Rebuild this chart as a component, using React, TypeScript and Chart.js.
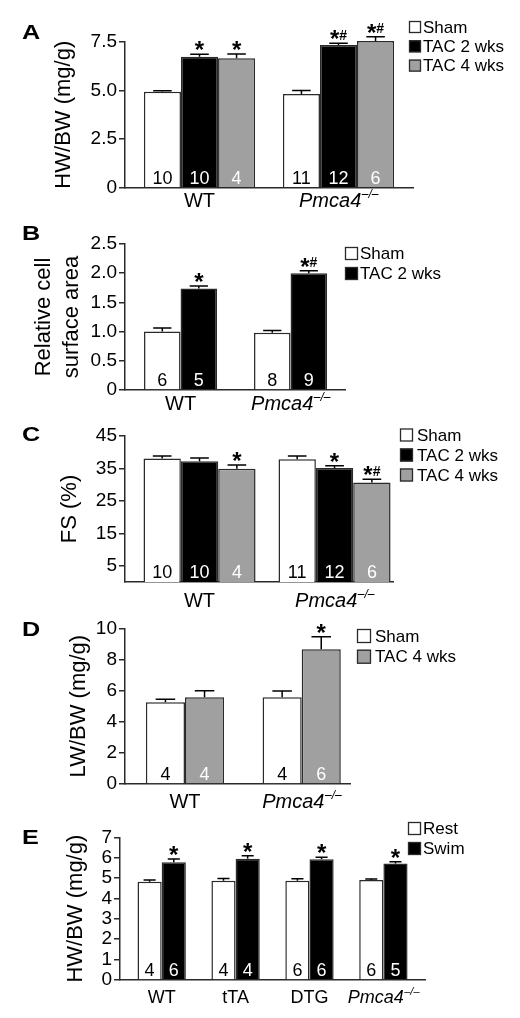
import React, { useEffect, useRef } from 'react';
import { Chart, registerables } from 'chart.js';

Chart.register(...registerables);

const FONT = '"Liberation Sans", Arial, Helvetica, sans-serif';
const WHITE = '#ffffff';
const BLACK = '#000000';
const GRAY = '#a0a0a0';
const EDGE = '#2a2a2a';

// ---------- Panel A : HW/BW ----------
const aGroups = ['WT', 'Pmca4'];
const aTicks = [0, 2.5, 5, 7.5];
const aSham = [4.93, 4.81];
const aShamErr = [0.05, 0.18];
const aShamN = [10, 11];
const aTac2 = [6.73, 7.33];
const aTac2Err = [0.13, 0.09];
const aTac2N = [10, 12];
const aTac2Sig = ['*', '*#'];
const aTac4 = [6.65, 7.53];
const aTac4Err = [0.22, 0.22];
const aTac4N = [4, 6];
const aTac4Sig = ['*', '*#'];

// ---------- Panel B : relative cell surface area ----------
const bGroups = ['WT', 'Pmca4'];
const bTicks = [0, 0.5, 1, 1.5, 2, 2.5];
const bSham = [1.0, 0.98];
const bShamErr = [0.06, 0.04];
const bShamN = [6, 8];
const bTac2 = [1.74, 2.0];
const bTac2Err = [0.04, 0.04];
const bTac2N = [5, 9];
const bTac2Sig = ['*', '*#'];

// ---------- Panel C : FS ----------
const cGroups = ['WT', 'Pmca4'];
const cTicks = [5, 15, 25, 35, 45];
const cSham = [38.1, 37.8];
const cShamErr = [0.7, 1.0];
const cShamN = [10, 11];
const cTac2 = [37.2, 35.1];
const cTac2Err = [1.0, 0.7];
const cTac2N = [10, 12];
const cTac2Sig = ['', '*'];
const cTac4 = [34.9, 30.7];
const cTac4Err = [1.2, 1.0];
const cTac4N = [4, 6];
const cTac4Sig = ['*', '*#'];

// ---------- Panel D : LW/BW ----------
const dGroups = ['WT', 'Pmca4'];
const dTicks = [0, 2, 4, 6, 8, 10];
const dSham = [5.25, 5.57];
const dShamErr = [0.19, 0.4];
const dShamN = [4, 4];
const dTac4 = [5.57, 8.65];
const dTac4Err = [0.42, 0.8];
const dTac4N = [4, 6];
const dTac4Sig = ['', '*'];

// ---------- Panel E : HW/BW swim ----------
const eGroups = ['WT', 'tTA', 'DTG', 'Pmca4'];
const eTicks = [0, 1, 2, 3, 4, 5, 6, 7];
const eRest = [4.82, 4.87, 4.87, 4.9];
const eRestErr = [0.08, 0.11, 0.1, 0.05];
const eRestN = [4, 4, 6, 6];
const eSwim = [5.77, 5.95, 5.92, 5.72];
const eSwimErr = [0.16, 0.14, 0.1, 0.08];
const eSwimN = [6, 4, 6, 5];
const eSwimSig = ['*', '*', '*', '*'];

type Series = {
  label: string;
  color: string;
  values: number[];
  err: number[];
  n: number[];
  sig?: string[];
};

type Panel = {
  letter: string;
  letterY: number;
  top: number;
  height: number;
  area: { l: number; t: number; r: number; b: number };
  yMin: number;
  yMax: number;
  yTicks: number[];
  yFmt: (v: number) => string;
  title: string | string[];
  titleLH: number;
  titlePad: number;
  groups: string[];
  xMin: number;
  xMax: number;
  catPct: number;
  xLabelY: number;
  xLabelSize: number;
  legend: { x: number; y: number; dy: number; box: number; gap: number };
  series: Series[];
};

const dec1 = (v: number) => (v === 0 ? '0' : v.toFixed(1));
const intFmt = (v: number) => String(v);

const panels: Panel[] = [
  {
    letter: 'A', letterY: 33, top: 0, height: 212,
    area: { l: 125, t: 41.7, r: 413, b: 187.7 },
    yMin: 0, yMax: 7.5, yTicks: aTicks, yFmt: dec1,
    title: 'HW/BW (mg/g)', titleLH: 1.2, titlePad: 51,
    groups: aGroups, xMin: -0.536, xMax: 1.536, catPct: 0.8,
    xLabelY: 201, xLabelSize: 20,
    legend: { x: 409, y: 27, dy: 19.3, box: 12, gap: 2 },
    series: [
      { label: 'Sham', color: WHITE, values: aSham, err: aShamErr, n: aShamN },
      { label: 'TAC 2 wks', color: BLACK, values: aTac2, err: aTac2Err, n: aTac2N, sig: aTac2Sig },
      { label: 'TAC 4 wks', color: GRAY, values: aTac4, err: aTac4Err, n: aTac4N, sig: aTac4Sig },
    ],
  },
  {
    letter: 'B', letterY: 234, top: 212, height: 200,
    area: { l: 125, t: 244, r: 345, b: 390 },
    yMin: 0, yMax: 2.5, yTicks: bTicks, yFmt: dec1,
    title: ['Relative cell', 'surface area'], titleLH: 1.27, titlePad: 30,
    groups: bGroups, xMin: -0.505, xMax: 1.495, catPct: 0.664,
    xLabelY: 404, xLabelSize: 20,
    legend: { x: 345, y: 253.5, dy: 20, box: 13, gap: 2 },
    series: [
      { label: 'Sham', color: WHITE, values: bSham, err: bShamErr, n: bShamN },
      { label: 'TAC 2 wks', color: BLACK, values: bTac2, err: bTac2Err, n: bTac2N, sig: bTac2Sig },
    ],
  },
  {
    letter: 'C', letterY: 435, top: 412, height: 200,
    area: { l: 125, t: 436, r: 393, b: 582 },
    yMin: 0, yMax: 45, yTicks: cTicks, yFmt: intFmt,
    title: 'FS (%)', titleLH: 1.2, titlePad: 57,
    groups: cGroups, xMin: -0.552, xMax: 1.433, catPct: 0.83,
    xLabelY: 601, xLabelSize: 20,
    legend: { x: 400, y: 435, dy: 20, box: 13, gap: 4 },
    series: [
      { label: 'Sham', color: WHITE, values: cSham, err: cShamErr, n: cShamN },
      { label: 'TAC 2 wks', color: BLACK, values: cTac2, err: cTac2Err, n: cTac2N, sig: cTac2Sig },
      { label: 'TAC 4 wks', color: GRAY, values: cTac4, err: cTac4Err, n: cTac4N, sig: cTac4Sig },
    ],
  },
  {
    letter: 'D', letterY: 630, top: 612, height: 200,
    area: { l: 125, t: 628.3, r: 350, b: 784 },
    yMin: 0, yMax: 10, yTicks: dTicks, yFmt: intFmt,
    title: 'LW/BW (mg/g)', titleLH: 1.2, titlePad: 66,
    groups: dGroups, xMin: -0.514, xMax: 1.414, catPct: 0.67,
    xLabelY: 802, xLabelSize: 20,
    legend: { x: 357, y: 636, dy: 20.7, box: 14, gap: 4 },
    series: [
      { label: 'Sham', color: WHITE, values: dSham, err: dShamErr, n: dShamN },
      { label: 'TAC 4 wks', color: GRAY, values: dTac4, err: dTac4Err, n: dTac4N, sig: dTac4Sig },
    ],
  },
  {
    letter: 'E', letterY: 838, top: 812, height: 206,
    area: { l: 120, t: 837.3, r: 425, b: 980 },
    yMin: 0, yMax: 7, yTicks: eTicks, yFmt: intFmt,
    title: 'HW/BW (mg/g)', titleLH: 1.2, titlePad: 63,
    groups: eGroups, xMin: -0.564, xMax: 3.563, catPct: 0.654,
    xLabelY: 998, xLabelSize: 18,
    legend: { x: 408, y: 828.5, dy: 20, box: 13, gap: 2 },
    series: [
      { label: 'Rest', color: WHITE, values: eRest, err: eRestErr, n: eRestN },
      { label: 'Swim', color: BLACK, values: eSwim, err: eSwimErr, n: eSwimN, sig: eSwimSig },
    ],
  },
];

function drawSig(ctx: CanvasRenderingContext2D, text: string, cx: number, bottomY: number) {
  const starFont = `bold 24px ${FONT}`;
  const hashFont = `bold 14px ${FONT}`;
  const parts = text.split('').map((ch) => ({ ch, font: ch === '*' ? starFont : hashFont }));
  let total = 0;
  const widths: number[] = [];
  parts.forEach((p) => {
    ctx.font = p.font;
    const w = ctx.measureText(p.ch).width;
    widths.push(w);
    total += w;
  });
  // vertical centre of the asterisk glyph, whose bottom sits at bottomY
  ctx.font = starFont;
  const sm = ctx.measureText('*');
  const starH = sm.actualBoundingBoxAscent + sm.actualBoundingBoxDescent;
  const centre = bottomY - starH / 2;
  let x = cx - total / 2;
  ctx.fillStyle = '#000';
  ctx.textAlign = 'left';
  ctx.textBaseline = 'alphabetic';
  parts.forEach((p, i) => {
    ctx.font = p.font;
    const m = ctx.measureText(p.ch);
    const base = centre + (m.actualBoundingBoxAscent - m.actualBoundingBoxDescent) / 2;
    ctx.fillText(p.ch, x, base);
    x += widths[i];
  });
}

function makePlugin(p: Panel) {
  return {
    id: 'decor' + p.letter,
    afterDatasetsDraw(chart: any) {
      const ctx: CanvasRenderingContext2D = chart.ctx;
      const ys = chart.scales.y;
      const area = chart.chartArea;
      p.series.forEach((s, di) => {
        const meta = chart.getDatasetMeta(di);
        meta.data.forEach((bar: any, i: number) => {
          const x = bar.x;
          const w = bar.width;
          const topY = ys.getPixelForValue(s.values[i]);
          const capY = ys.getPixelForValue(s.values[i] + s.err[i]);
          ctx.save();
          ctx.strokeStyle = '#000';
          ctx.lineWidth = 1.5;
          ctx.beginPath();
          ctx.moveTo(x, topY);
          ctx.lineTo(x, capY);
          ctx.moveTo(x - w * 0.25, capY);
          ctx.lineTo(x + w * 0.25, capY);
          ctx.stroke();
          ctx.font = `18px ${FONT}`;
          ctx.fillStyle = s.color === WHITE ? '#000' : '#fff';
          ctx.textAlign = 'center';
          ctx.textBaseline = 'alphabetic';
          ctx.fillText(String(s.n[i]), x, area.bottom - 4);
          if (s.sig && s.sig[i]) drawSig(ctx, s.sig[i], x, capY - 4);
          ctx.restore();
        });
      });
    },
    afterDraw(chart: any) {
      const ctx: CanvasRenderingContext2D = chart.ctx;
      const xs = chart.scales.x;
      ctx.save();
      // legend
      const L = p.legend;
      p.series.forEach((s, i) => {
        const y = L.y + i * L.dy - p.top;
        ctx.fillStyle = s.color;
        ctx.fillRect(L.x, y - L.box / 2, L.box, L.box);
        ctx.strokeStyle = EDGE;
        ctx.lineWidth = 1.3;
        ctx.strokeRect(L.x + 0.5, y - L.box / 2 + 0.5, L.box - 1, L.box - 1);
        ctx.fillStyle = '#000';
        ctx.font = `17px ${FONT}`;
        ctx.textAlign = 'left';
        ctx.textBaseline = 'middle';
        ctx.fillText(s.label, L.x + L.box + L.gap, y + 1);
      });
      // panel letter
      ctx.save();
      ctx.translate(22, p.letterY - p.top);
      ctx.scale(1.2, 1);
      ctx.fillStyle = '#000';
      ctx.font = `bold 21px ${FONT}`;
      ctx.textAlign = 'left';
      ctx.textBaseline = 'middle';
      ctx.fillText(p.letter, 0, 0);
      ctx.restore();
      // group labels
      p.groups.forEach((g, i) => {
        const cx = xs.getPixelForValue(i);
        const y = p.xLabelY - p.top;
        ctx.fillStyle = '#000';
        ctx.textBaseline = 'middle';
        if (g === 'Pmca4') {
          const main = `italic ${p.xLabelSize}px ${FONT}`;
          const sup = `italic ${Math.round(p.xLabelSize * 0.6)}px ${FONT}`;
          const supText = '\u2013/\u2013';
          ctx.font = main;
          const w1 = ctx.measureText(g).width;
          ctx.font = sup;
          const w2 = ctx.measureText(supText).width;
          const x0 = cx - (w1 + w2) / 2;
          ctx.textAlign = 'left';
          ctx.font = main;
          ctx.fillText(g, x0, y);
          ctx.font = sup;
          ctx.fillText(supText, x0 + w1 + 0.5, y - p.xLabelSize * 0.33);
        } else {
          ctx.font = `${p.xLabelSize}px ${FONT}`;
          ctx.textAlign = 'center';
          ctx.fillText(g, cx, y);
        }
      });
      ctx.restore();
    },
  };
}

function buildConfig(p: Panel): any {
  const a = p.area;
  return {
    type: 'bar',
    data: {
      datasets: p.series.map((s) => ({
        label: s.label,
        data: s.values.map((v, i) => ({ x: i, y: v })),
        backgroundColor: s.color,
        borderColor: EDGE,
        borderWidth: 1.5,
        borderSkipped: 'bottom',
        categoryPercentage: p.catPct,
        barPercentage: 1,
        clip: false,
      })),
    },
    options: {
      responsive: false,
      animation: false,
      devicePixelRatio: 1,
      events: [],
      layout: { padding: { left: 0, top: a.t - p.top, right: 520 - a.r, bottom: 0 } },
      plugins: {
        legend: { display: false },
        tooltip: { enabled: false },
        title: { display: false },
      },
      scales: {
        x: {
          type: 'linear',
          min: p.xMin,
          max: p.xMax,
          bounds: 'data',
          offset: false,
          afterBuildTicks: (s: any) => {
            s.ticks = p.groups.map((_, i) => ({ value: i }));
          },
          afterFit: (s: any) => {
            s.height = p.top + p.height - a.b;
          },
          ticks: { display: false },
          grid: { display: false },
          border: { display: true, color: EDGE, width: 1.5 },
        },
        y: {
          type: 'linear',
          min: p.yMin,
          max: p.yMax,
          bounds: 'data',
          afterBuildTicks: (s: any) => {
            s.ticks = p.yTicks.map((v) => ({ value: v }));
          },
          afterFit: (s: any) => {
            s.width = a.l;
          },
          ticks: {
            autoSkip: false,
            padding: 2,
            color: '#000',
            font: { family: FONT, size: 19 },
            callback: (v: any) => p.yFmt(Number(v)),
          },
          grid: {
            display: true,
            drawOnChartArea: false,
            drawTicks: true,
            tickLength: 6,
            color: EDGE,
            lineWidth: 1.5,
          },
          border: { display: true, color: EDGE, width: 1.5 },
          title: {
            display: true,
            text: p.title,
            color: '#000',
            font: { family: FONT, size: 22, lineHeight: p.titleLH },
            padding: { top: p.titlePad, bottom: 0 },
          },
        },
      },
    },
    plugins: [makePlugin(p)],
  };
}

function PanelChart({ p }: { p: Panel }) {
  const ref = useRef<HTMLCanvasElement>(null);
  useEffect(() => {
    const chart = new Chart(ref.current as HTMLCanvasElement, buildConfig(p));
    return () => chart.destroy();
  }, [p]);
  return (
    <canvas
      ref={ref}
      width={520}
      height={p.height}
      style={{ position: 'absolute', left: 0, top: p.top, width: 520, height: p.height, display: 'block' }}
    />
  );
}

export default function App() {
  return (
    <div style={{ position: 'absolute', left: 0, top: 0, width: 520, height: 1018, background: '#fff' }}>
      {panels.map((p) => (
        <PanelChart key={p.letter} p={p} />
      ))}
    </div>
  );
}
